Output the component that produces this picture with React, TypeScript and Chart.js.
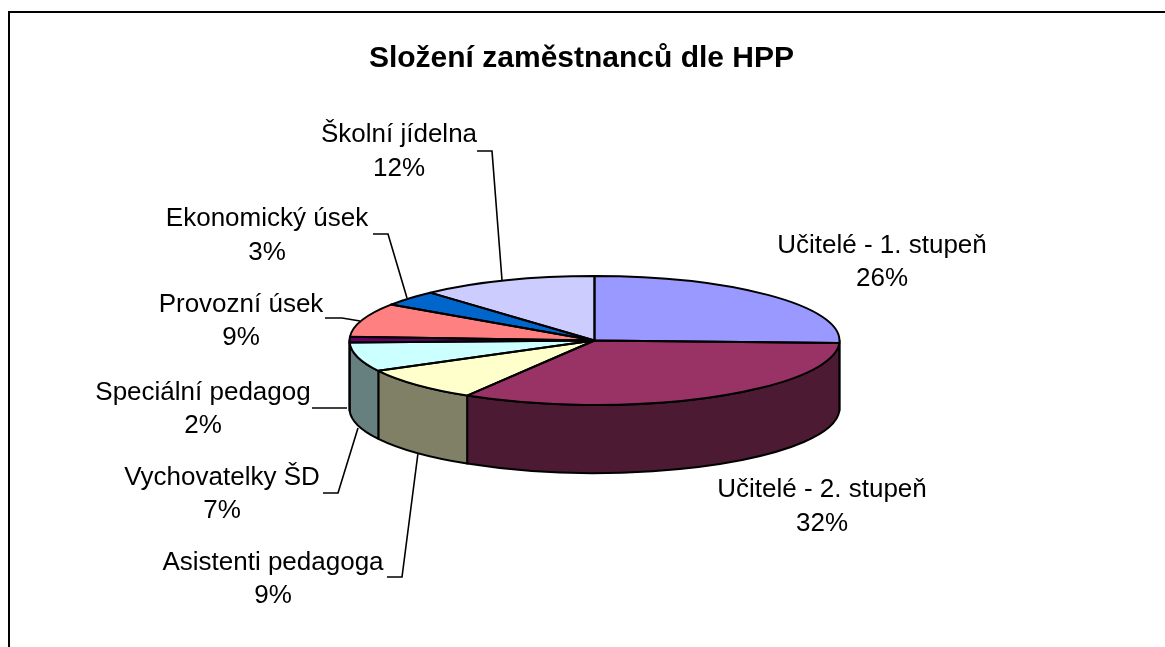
import React, { useEffect, useRef } from "react";
import { Chart, registerables } from "chart.js";

Chart.register(...registerables);

const categories = [
  "Učitelé - 1. stupeň",
  "Učitelé - 2. stupeň",
  "Asistenti pedagoga",
  "Vychovatelky ŠD",
  "Speciální pedagog",
  "Provozní úsek",
  "Ekonomický úsek",
  "Školní jídelna",
];
const sliceValues = [25.6, 33.1, 8.5, 7.3, 1.4, 8.5, 3.9, 11.7];
const percentLabels = ["26%", "32%", "9%", "7%", "2%", "9%", "3%", "12%"];
const topColors = ["#9999FF", "#993366", "#FFFFCC", "#CCFFFF", "#660066", "#FF8080", "#0066CC", "#CCCCFF"];
const sideColors = ["#4D4D80", "#4D1A33", "#808066", "#668080", "#330033", "#804040", "#003366", "#666680"];
const chartTitle = "Složení zaměstnanců dle HPP";

// Layout of the callouts: label centre, first/second line y, leader polyline
const labelLayout = [
  { x: 882, y: [245.5, 278.5], leader: [] as number[][] },
  { x: 822, y: [489.5, 523.5], leader: [] as number[][] },
  { x: 273, y: [562.5, 595.5], leader: [[387, 577], [402, 577], [418, 453]] },
  { x: 222, y: [477.5, 510.5], leader: [[323, 493], [338, 493], [358, 428]] },
  { x: 203, y: [392.5, 425.5], leader: [[312, 408], [347, 408]] },
  { x: 241, y: [304.5, 337.5], leader: [[325, 318], [342, 318], [360, 321]] },
  { x: 267, y: [218.5, 252.5], leader: [[373, 234], [388, 234], [407, 298]] },
  { x: 399, y: [134.5, 168.5], leader: [[477, 151], [492, 151], [502, 280]] },
];

const CENTER_X = 594.5;
const CENTER_Y = 340.5;
const RADIUS = 245;
const SQUASH = 64.5 / 245;
const DEPTH = 68;
const FONT = '"Liberation Sans", Arial, sans-serif';

const pie3d = {
  id: "pie3d",
  beforeDatasetDraw(chart: any) {
    const ctx = chart.ctx;
    const arcs = chart.getDatasetMeta(0).data;
    const ry = RADIUS * SQUASH;
    // side walls: only the near half of the rim (canvas angles 0..PI)
    ctx.save();
    ctx.lineWidth = 2;
    ctx.strokeStyle = "#000";
    ctx.lineJoin = "round";
    arcs.forEach((arc: any, i: number) => {
      const a = Math.max(arc.startAngle, 0);
      const b = Math.min(arc.endAngle, Math.PI);
      if (b <= a) return;
      ctx.beginPath();
      ctx.ellipse(CENTER_X, CENTER_Y, arc.outerRadius, ry, 0, a, b, false);
      ctx.ellipse(CENTER_X, CENTER_Y + DEPTH, arc.outerRadius, ry, 0, b, a, true);
      ctx.closePath();
      ctx.fillStyle = sideColors[i];
      ctx.fill();
      ctx.stroke();
    });
    ctx.restore();
    // top face: the library's own arcs, drawn through a squashing transform
    const first = arcs[0];
    ctx.save();
    ctx.translate(CENTER_X, CENTER_Y);
    ctx.scale(1, SQUASH);
    ctx.translate(-first.x, -first.y);
  },
  afterDatasetDraw(chart: any) {
    const ctx = chart.ctx;
    ctx.restore();
    const arcs = chart.getDatasetMeta(0).data;
    const ry = RADIUS * SQUASH;
    ctx.save();
    ctx.lineWidth = 2;
    ctx.strokeStyle = "#000";
    ctx.lineJoin = "round";
    arcs.forEach((arc: any) => {
      ctx.beginPath();
      ctx.moveTo(CENTER_X, CENTER_Y);
      ctx.ellipse(CENTER_X, CENTER_Y, arc.outerRadius, ry, 0, arc.startAngle, arc.endAngle, false);
      ctx.closePath();
      ctx.stroke();
    });
    ctx.restore();
  },
  afterDraw(chart: any) {
    const ctx = chart.ctx;
    ctx.save();
    ctx.strokeStyle = "#000";
    ctx.lineWidth = 1.6;
    ctx.fillStyle = "#000";
    ctx.font = `26px ${FONT}`;
    ctx.textAlign = "center";
    ctx.textBaseline = "middle";
    labelLayout.forEach((l, i) => {
      ctx.fillText(categories[i], l.x, l.y[0]);
      ctx.fillText(percentLabels[i], l.x, l.y[1]);
      if (l.leader.length) {
        ctx.beginPath();
        l.leader.forEach((p, j) => (j ? ctx.lineTo(p[0], p[1]) : ctx.moveTo(p[0], p[1])));
        ctx.stroke();
      }
    });
    ctx.restore();
  },
};

export default function App() {
  const ref = useRef<HTMLCanvasElement>(null);
  useEffect(() => {
    document.body.style.margin = "0";
    document.body.style.background = "#fff";
    const chart = new Chart(ref.current!, {
      type: "pie",
      data: {
        labels: categories,
        datasets: [
          {
            data: sliceValues,
            backgroundColor: topColors,
            borderWidth: 0,
            radius: RADIUS,
            clip: false,
          } as any,
        ],
      },
      options: {
        responsive: false,
        animation: false,
        layout: { padding: { right: 2 } },
        plugins: {
          legend: { display: false },
          tooltip: { enabled: false },
          title: {
            display: true,
            text: chartTitle,
            color: "#000",
            font: { family: FONT, size: 30, weight: "bold", lineHeight: 1.2 },
            padding: { top: 41, bottom: 10 },
          },
        },
      },
      plugins: [pie3d],
    });
    return () => chart.destroy();
  }, []);
  return (
    <div style={{ position: "relative", width: 1165, height: 647, overflow: "hidden" }}>
      <canvas ref={ref} width={1165} height={647} style={{ position: "absolute", left: 0, top: 0 }} />
      <div
        style={{
          position: "absolute",
          left: 8,
          top: 11,
          right: 0,
          bottom: 0,
          borderLeft: "2px solid #000",
          borderTop: "2px solid #000",
          pointerEvents: "none",
        }}
      />
    </div>
  );
}
